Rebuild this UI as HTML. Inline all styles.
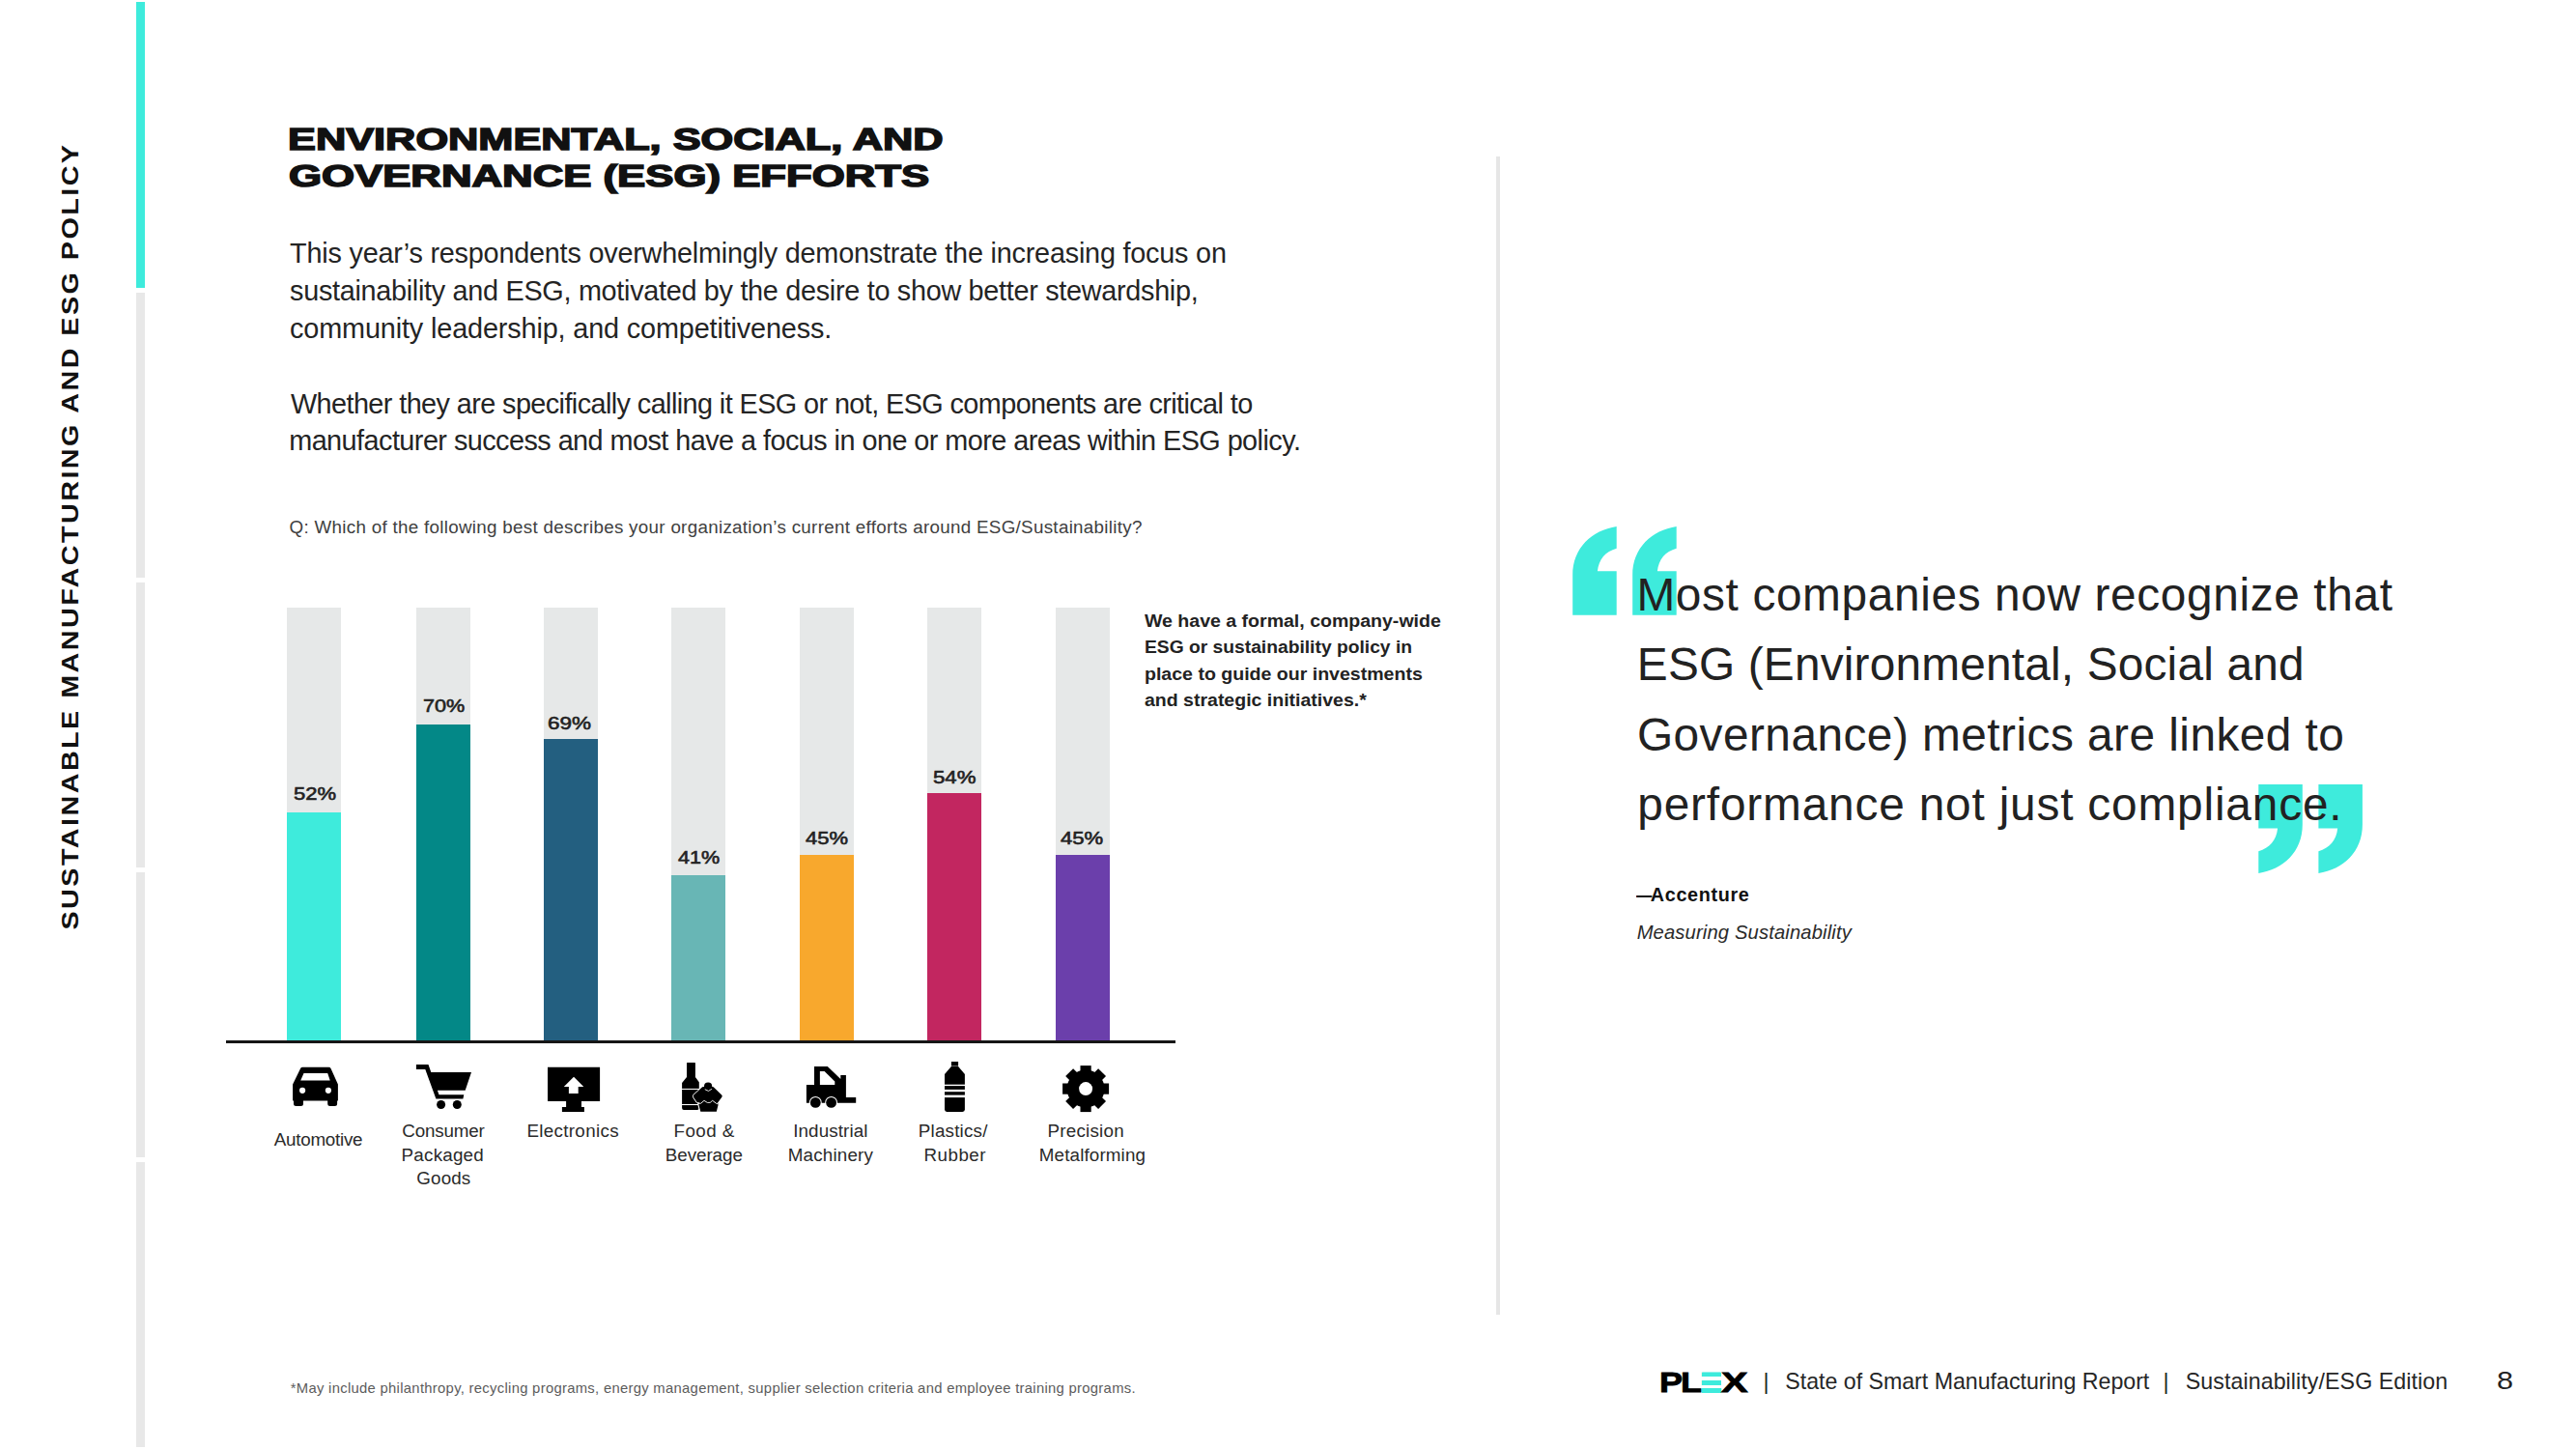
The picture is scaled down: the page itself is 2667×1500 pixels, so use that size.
<!DOCTYPE html>
<html lang="en">
<head>
<meta charset="utf-8">
<title>Environmental, Social, and Governance (ESG) Efforts</title>
<style>
html,body{margin:0;padding:0;background:#fff;}
body{width:2667px;height:1500px;position:relative;overflow:hidden;font-family:"Liberation Sans",Arial,Helvetica,sans-serif;}
.t{position:absolute;white-space:nowrap;margin:0;padding:0;}
.ti{display:inline-block;white-space:nowrap;}
.r{position:absolute;}
.seg{position:absolute;left:141px;width:9px;background:#e8e8e8;}
.bg{position:absolute;top:629px;height:448px;width:56px;background:#e6e8e8;}
.bar{position:absolute;width:56px;}
svg{position:absolute;overflow:visible;}
#vt{position:absolute;left:0;top:0;white-space:nowrap;font-weight:bold;font-size:24.8px;line-height:24.8px;color:#111;letter-spacing:2.1px;transform-origin:0 0;transform:translate(60.6px,962.5px) rotate(-90deg) scaleX(1.16);}
</style>
</head>
<body>
<!-- left progress rail -->
<div class="seg" style="top:2px;height:296px;background:#3eebdc;"></div>
<div class="seg" style="top:302.5px;height:295px;"></div>
<div class="seg" style="top:602.5px;height:295px;"></div>
<div class="seg" style="top:902.5px;height:295px;"></div>
<div class="seg" style="top:1202.5px;height:295px;"></div>
<div id="vt">SUSTAINABLE MANUFACTURING AND ESG POLICY</div>

<!-- divider -->
<div class="r" style="left:1549.2px;top:162px;width:3.8px;height:1198.6px;background:#e6e6e6;"></div>

<!-- chart -->
<div class="bg" style="left:297px;"></div>
<div class="bg" style="left:430.7px;"></div>
<div class="bg" style="left:563px;"></div>
<div class="bg" style="left:695.2px;"></div>
<div class="bg" style="left:828px;"></div>
<div class="bg" style="left:960.2px;"></div>
<div class="bg" style="left:1093.2px;"></div>
<div class="bar" style="left:297px;top:841px;height:237px;background:#3eebdc;"></div>
<div class="bar" style="left:430.7px;top:750px;height:328px;background:#038887;"></div>
<div class="bar" style="left:563px;top:765px;height:313px;background:#235f80;"></div>
<div class="bar" style="left:695.2px;top:906px;height:172px;background:#68b6b5;"></div>
<div class="bar" style="left:828px;top:885px;height:193px;background:#f8a82d;"></div>
<div class="bar" style="left:960.2px;top:821px;height:257px;background:#c22660;"></div>
<div class="bar" style="left:1093.2px;top:885px;height:193px;background:#6b3fab;"></div>
<div class="r" style="left:234px;top:1077px;width:983px;height:2.9px;background:#161616;"></div>


<svg width="2667" height="1500" viewBox="0 0 2667 1500" style="left:0;top:0;">
<!-- car -->
<path fill="#000" d="M303.1,1122.5 L303.1,1139.5 L304,1139.5 L304,1142.4 Q304,1144.9 306.5,1144.9 L311.5,1144.9 Q314,1144.9 314,1142.4 L314,1139.5 L339.2,1139.5 L339.2,1142.4 Q339.2,1144.9 341.7,1144.9 L346.6,1144.9 Q349.1,1144.9 349.1,1142.4 L349.1,1139.5 L349.9,1139.5 L349.9,1122.5 L342.6,1106.3 Q341.9,1104.85 340.3,1104.85 L313.3,1104.85 Q311.7,1104.85 311,1106.3 Z"/>
<path fill="#fff" d="M314.5,1111.1 L339.2,1111.1 L341.7,1118.5 L311.2,1118.5 Z"/>
<circle cx="313.1" cy="1128.8" r="3.1" fill="#fff"/><circle cx="339.9" cy="1128.8" r="3.1" fill="#fff"/>
<!-- cart -->
<path fill="#000" d="M430.9,1102 L443.5,1102 L446.3,1110 L488,1110 L481.7,1128.8 L452.9,1128.8 L454.5,1133.2 L480.3,1133.2 L479.4,1137.6 L451.4,1137.6 L440.3,1106.9 L430.9,1106.9 Z"/>
<circle cx="456.6" cy="1143.5" r="4.5" fill="#000"/><circle cx="473.3" cy="1143.5" r="4.5" fill="#000"/>
<!-- monitor -->
<path fill="#000" d="M567,1104.85 H621.1 V1140 H602 V1146 H604.9 V1151 H581.9 V1146 H586.1 V1140 H567 Z"/>
<path fill="#fff" d="M594.04,1114.8 L604.3,1125.06 L598.7,1125.06 L598.7,1132.05 L588.9,1132.05 L588.9,1125.06 L583.8,1125.06 Z"/>
<!-- food & beverage -->
<path fill="#000" d="M711,1100.6 Q711,1100 711.6,1100 L719.3,1100 Q719.9,1100 719.9,1100.6 L719.9,1114.9 L723.8,1120.3 L723.8,1147 Q723.8,1148.9 721.9,1148.9 L708,1148.9 Q706.1,1148.9 706.1,1147 L706.1,1121.1 L711,1114.9 Z"/>
<rect x="705" y="1126.9" width="20" height="1.05" fill="#fff"/><rect x="705" y="1143" width="20" height="1.05" fill="#fff"/>
<g fill="#fff" stroke="#fff" stroke-width="5" stroke-linejoin="round"><path d="M719.4,1134.75 L728.3,1126.6 L737.5,1126.6 L746,1134.75 L742.3,1139.6 L722.6,1139.6 Z"/><path stroke-width="2" d="M723.2,1143 L743.9,1143 L741.8,1150.7 L725.3,1150.7 Z"/></g>
<circle cx="733.1" cy="1124.6" r="5" fill="#fff"/>
<g fill="#000" stroke="#000" stroke-width="3.4" stroke-linejoin="round"><path d="M719.4,1134.75 L728.3,1126.6 L737.5,1126.6 L746,1134.75 L742.3,1139.6 L722.6,1139.6 Z"/></g>
<path fill="#000" d="M723.2,1142.6 L725,1140.5 L742,1140.5 L743.9,1142.6 L741.8,1150.7 L725.3,1150.7 Z"/>
<circle cx="733.1" cy="1124.6" r="4.1" fill="#000"/>
<path d="M729.8,1127.7 L733.5,1129.4 L736.9,1127.3" fill="none" stroke="#fff" stroke-width="0.9"/>
<path d="M722.4,1142.5 L725.7,1142.2 L729,1139.3 L732.3,1141.4 L735.2,1141.4 L737.7,1139.3 L741.4,1142.2 L744.2,1143.1" fill="none" stroke="#fff" stroke-width="0.9" stroke-linejoin="round"/>
<!-- forklift -->
<path fill="#000" d="M834.9,1123 L843,1123 L843,1104.1 L856.8,1104.1 L870.3,1117.1 L870.3,1113 L875.9,1113 L875.9,1136.1 L886.2,1136.1 L886.2,1141.8 L834.9,1141.8 Z"/>
<path fill="#fff" d="M848.9,1109 L853.6,1109 L864.3,1119.5 L864.3,1123 L848.9,1123 Z"/>
<circle cx="844.3" cy="1141.4" r="6.4" fill="#fff"/><circle cx="860.6" cy="1141.4" r="6.4" fill="#fff"/>
<circle cx="844.3" cy="1141.4" r="5.4" fill="#000"/><circle cx="860.6" cy="1141.4" r="5.4" fill="#000"/>
<!-- plastic bottle -->
<rect x="984.9" y="1099" width="7.2" height="4.6" fill="#000"/>
<path fill="#000" d="M984.9,1104.1 L992.1,1104.1 L998.9,1112 L998.9,1148.6 Q998.9,1151 996.5,1151 L980.4,1151 Q978,1151 978,1148.6 L978,1112 Z"/>
<rect x="977" y="1122.7" width="23" height="1.4" fill="#fff"/><rect x="977" y="1127.9" width="23" height="2.3" fill="#fff"/><rect x="977" y="1133.6" width="23" height="2.5" fill="#fff"/>
<!-- gear -->
<g fill="#000"><circle cx="1124.1" cy="1127.1" r="19.5"/><rect x="1118.50" y="1103.10" width="11.20" height="8.70" transform="rotate(0 1124.1 1127.1)"/><rect x="1118.50" y="1103.10" width="11.20" height="8.70" transform="rotate(45 1124.1 1127.1)"/><rect x="1118.50" y="1103.10" width="11.20" height="8.70" transform="rotate(90 1124.1 1127.1)"/><rect x="1118.50" y="1103.10" width="11.20" height="8.70" transform="rotate(135 1124.1 1127.1)"/><rect x="1118.50" y="1103.10" width="11.20" height="8.70" transform="rotate(180 1124.1 1127.1)"/><rect x="1118.50" y="1103.10" width="11.20" height="8.70" transform="rotate(225 1124.1 1127.1)"/><rect x="1118.50" y="1103.10" width="11.20" height="8.70" transform="rotate(270 1124.1 1127.1)"/><rect x="1118.50" y="1103.10" width="11.20" height="8.70" transform="rotate(315 1124.1 1127.1)"/></g><circle cx="1124.1" cy="1127.1" r="7" fill="#fff"/>
</svg>



<svg width="2667" height="1500" viewBox="0 0 2667 1500" style="left:0;top:0;">
<g fill="#3eebdc">
<path d="M0,91.9 L0,50.5 C0,22 20,4 45.5,0 L45.5,22.8 C34,26 27,34 25.7,46.4 L45.5,46.4 L45.5,91.9 Z" transform="translate(1628.2,544.9)"/>
<path d="M0,91.9 L0,50.5 C0,22 20,4 45.5,0 L45.5,22.8 C34,26 27,34 25.7,46.4 L45.5,46.4 L45.5,91.9 Z" transform="translate(1690.2,544.9)"/>
<path d="M0,91.9 L0,50.5 C0,22 20,4 45.5,0 L45.5,22.8 C34,26 27,34 25.7,46.4 L45.5,46.4 L45.5,91.9 Z" transform="translate(2383.8,904.0) rotate(180)"/>
<path d="M0,91.9 L0,50.5 C0,22 20,4 45.5,0 L45.5,22.8 C34,26 27,34 25.7,46.4 L45.5,46.4 L45.5,91.9 Z" transform="translate(2445.9,904.0) rotate(180)"/>
</g>
</svg>



<div class="r" style="left:1762px;top:1421.1px;width:19.6px;height:20.8px;background:#3eebdc;"></div>


<div class="t" id="h1" style="left:298.04px;top:129.49px;font-size:31.2px;line-height:31.2px;color:#111;font-weight:bold;transform:scaleX(1.3889);transform-origin:0 0;-webkit-text-stroke:1.5px #111;">ENVIRONMENTAL, SOCIAL, AND</div>
<div class="t" id="h2" style="left:298.94px;top:167.09px;font-size:31.2px;line-height:31.2px;color:#111;font-weight:bold;transform:scaleX(1.4020);transform-origin:0 0;-webkit-text-stroke:1.5px #111;">GOVERNANCE (ESG) EFFORTS</div>
<div class="t" id="b1" style="left:300.10px;top:247.62px;font-size:28.8px;line-height:28.8px;color:#242424;letter-spacing:-0.207px;">This year’s respondents overwhelmingly demonstrate the increasing focus on</div>
<div class="t" id="b2" style="left:300.10px;top:286.62px;font-size:28.8px;line-height:28.8px;color:#242424;letter-spacing:-0.289px;">sustainability and ESG, motivated by the desire to show better stewardship,</div>
<div class="t" id="b3" style="left:300.10px;top:325.62px;font-size:28.8px;line-height:28.8px;color:#242424;letter-spacing:-0.133px;">community leadership, and competitiveness.</div>
<div class="t" id="b4" style="left:301.00px;top:403.92px;font-size:28.8px;line-height:28.8px;color:#242424;letter-spacing:-0.577px;">Whether they are specifically calling it ESG or not, ESG components are critical to</div>
<div class="t" id="b5" style="left:299.20px;top:442.02px;font-size:28.8px;line-height:28.8px;color:#242424;letter-spacing:-0.535px;">manufacturer success and most have a focus in one or more areas within ESG policy.</div>
<div class="t" id="q" style="left:299.52px;top:536.99px;font-size:18.8px;line-height:18.8px;color:#404040;letter-spacing:0.301px;">Q: Which of the following best describes your organization’s current efforts around ESG/Sustainability?</div>
<div class="t" id="p1" style="left:303.89px;top:811.85px;font-size:19.2px;line-height:19.2px;color:#222;transform:scaleX(1.1472);transform-origin:0 0;-webkit-text-stroke:0.6px #222;">52%</div>
<div class="t" id="p2" style="left:437.68px;top:720.95px;font-size:19.2px;line-height:19.2px;color:#222;transform:scaleX(1.1258);transform-origin:0 0;-webkit-text-stroke:0.6px #222;">70%</div>
<div class="t" id="p3" style="left:567.36px;top:739.15px;font-size:19.2px;line-height:19.2px;color:#222;transform:scaleX(1.1723);transform-origin:0 0;-webkit-text-stroke:0.6px #222;">69%</div>
<div class="t" id="p4" style="left:702.00px;top:878.15px;font-size:19.2px;line-height:19.2px;color:#222;transform:scaleX(1.1251);transform-origin:0 0;-webkit-text-stroke:0.6px #222;">41%</div>
<div class="t" id="p5" style="left:834.21px;top:857.95px;font-size:19.2px;line-height:19.2px;color:#222;transform:scaleX(1.1459);transform-origin:0 0;-webkit-text-stroke:0.6px #222;">45%</div>
<div class="t" id="p6" style="left:965.52px;top:795.15px;font-size:19.2px;line-height:19.2px;color:#222;transform:scaleX(1.1571);transform-origin:0 0;-webkit-text-stroke:0.6px #222;">54%</div>
<div class="t" id="p7" style="left:1098.16px;top:858.35px;font-size:19.2px;line-height:19.2px;color:#222;transform:scaleX(1.1511);transform-origin:0 0;-webkit-text-stroke:0.6px #222;">45%</div>
<div class="t" id="l1" style="left:1185.42px;top:634.69px;font-size:17.5px;line-height:17.5px;color:#222;font-weight:bold;transform:scaleX(1.1160);transform-origin:0 0;">We have a formal, company-wide</div>
<div class="t" id="l2" style="left:1184.52px;top:662.19px;font-size:17.5px;line-height:17.5px;color:#222;font-weight:bold;transform:scaleX(1.0998);transform-origin:0 0;">ESG or sustainability policy in</div>
<div class="t" id="l3" style="left:1184.52px;top:689.79px;font-size:17.5px;line-height:17.5px;color:#222;font-weight:bold;transform:scaleX(1.1168);transform-origin:0 0;">place to guide our investments</div>
<div class="t" id="l4" style="left:1184.52px;top:717.49px;font-size:17.5px;line-height:17.5px;color:#222;font-weight:bold;transform:scaleX(1.1146);transform-origin:0 0;">and strategic initiatives.*</div>
<div class="t" id="a1" style="left:283.79px;top:1171.39px;font-size:18.8px;line-height:18.8px;color:#2a2a2a;letter-spacing:-0.246px;">Automotive</div>
<div class="t" id="a2" style="left:416.26px;top:1161.69px;font-size:18.8px;line-height:18.8px;color:#2a2a2a;letter-spacing:-0.159px;">Consumer</div>
<div class="t" id="a3" style="left:415.62px;top:1186.59px;font-size:18.8px;line-height:18.8px;color:#2a2a2a;letter-spacing:0.218px;">Packaged</div>
<div class="t" id="a4" style="left:431.26px;top:1211.39px;font-size:18.8px;line-height:18.8px;color:#2a2a2a;letter-spacing:0.167px;">Goods</div>
<div class="t" id="a5" style="left:545.41px;top:1161.69px;font-size:18.8px;line-height:18.8px;color:#2a2a2a;letter-spacing:0.326px;">Electronics</div>
<div class="t" id="a6" style="left:697.57px;top:1161.69px;font-size:18.8px;line-height:18.8px;color:#2a2a2a;letter-spacing:0.438px;">Food &amp;</div>
<div class="t" id="a7" style="left:688.78px;top:1186.59px;font-size:18.8px;line-height:18.8px;color:#2a2a2a;letter-spacing:-0.041px;">Beverage</div>
<div class="t" id="a8" style="left:821.20px;top:1161.69px;font-size:18.8px;line-height:18.8px;color:#2a2a2a;letter-spacing:0.118px;">Industrial</div>
<div class="t" id="a9" style="left:815.78px;top:1186.59px;font-size:18.8px;line-height:18.8px;color:#2a2a2a;letter-spacing:0.191px;">Machinery</div>
<div class="t" id="a10" style="left:950.78px;top:1161.69px;font-size:18.8px;line-height:18.8px;color:#2a2a2a;letter-spacing:0.213px;">Plastics/</div>
<div class="t" id="a11" style="left:956.41px;top:1186.59px;font-size:18.8px;line-height:18.8px;color:#2a2a2a;letter-spacing:0.512px;">Rubber</div>
<div class="t" id="a12" style="left:1084.57px;top:1161.69px;font-size:18.8px;line-height:18.8px;color:#2a2a2a;letter-spacing:0.228px;">Precision</div>
<div class="t" id="a13" style="left:1075.78px;top:1186.59px;font-size:18.8px;line-height:18.8px;color:#2a2a2a;letter-spacing:0.152px;">Metalforming</div>
<div class="t" id="k1" style="left:1694.40px;top:592.44px;font-size:47.8px;line-height:47.8px;color:#222;letter-spacing:0.628px;">Most companies now recognize that</div>
<div class="t" id="k2" style="left:1694.82px;top:664.44px;font-size:47.8px;line-height:47.8px;color:#222;letter-spacing:0.184px;">ESG (Environmental, Social and</div>
<div class="t" id="k3" style="left:1694.88px;top:736.54px;font-size:47.8px;line-height:47.8px;color:#222;letter-spacing:0.463px;">Governance) metrics are linked to</div>
<div class="t" id="k4" style="left:1695.30px;top:809.04px;font-size:47.8px;line-height:47.8px;color:#222;letter-spacing:0.814px;">performance not just compliance.</div>
<div class="t" id="ms" style="left:1694.63px;top:954.80px;font-size:20.2px;line-height:20.2px;color:#2a2a2a;font-style:italic;letter-spacing:0.148px;">Measuring Sustainability</div>
<div class="t" id="f0" style="left:1825.46px;top:1418.86px;font-size:23.2px;line-height:23.2px;color:#262626;">|</div>
<div class="t" id="f1" style="left:1848.31px;top:1418.86px;font-size:23.2px;line-height:23.2px;color:#262626;letter-spacing:-0.018px;">State of Smart Manufacturing Report</div>
<div class="t" id="f2" style="left:2239.46px;top:1418.86px;font-size:23.2px;line-height:23.2px;color:#262626;">|</div>
<div class="t" id="f3" style="left:2262.73px;top:1418.86px;font-size:23.2px;line-height:23.2px;color:#262626;letter-spacing:0.085px;">Sustainability/ESG Edition</div>
<div class="t" id="f4" style="left:2584.52px;top:1415.74px;font-size:26.3px;line-height:26.3px;color:#222;transform:scaleX(1.1654);transform-origin:0 0;">8</div>
<div class="t" id="fn" style="left:300.78px;top:1429.77px;font-size:14.8px;line-height:14.8px;color:#5c5c5c;letter-spacing:0.305px;">*May include philanthropy, recycling programs, energy management, supplier selection criteria and employee training programs.</div>
<div class="t" id="byline" style="left:1694.10px;top:916.54px;font-size:19.8px;line-height:19.8px;font-weight:bold;"><span class="ti" id="acc0" style="color:#111;width:14.70px;transform:scaleX(0.8200);transform-origin:0 0;">—</span><span class="ti" id="acc" style="color:#111;letter-spacing:0.660px;">Accenture</span></div>
<div class="t" id="logo" style="left:1717.83px;top:1416.17px;font-size:29.8px;line-height:29.8px;font-weight:bold;"><span class="ti" id="lgP" style="color:#000;width:22.21px;transform:scaleX(1.2100);transform-origin:0 0;-webkit-text-stroke:0.8px #000;">P</span><span class="ti" id="lgL" style="color:#000;width:20.46px;transform:scaleX(1.2131);transform-origin:0 0;-webkit-text-stroke:0.8px #000;">L</span><span class="ti" id="lgE" style="color:#3eebdc;width:21.08px;transform:scaleX(1.1500);transform-origin:0 0;-webkit-text-stroke:0.8px #3eebdc;">E</span><span class="ti" id="lgX" style="color:#000;transform:scaleX(1.3893);transform-origin:0 0;-webkit-text-stroke:0.8px #000;">X</span></div>
<div class="r" style="left:1761px;top:1425.4px;width:21.6px;height:3.8px;background:#fff;"></div>
<div class="r" style="left:1761px;top:1433.85px;width:21.6px;height:3.6px;background:#fff;"></div>
</body>
</html>
